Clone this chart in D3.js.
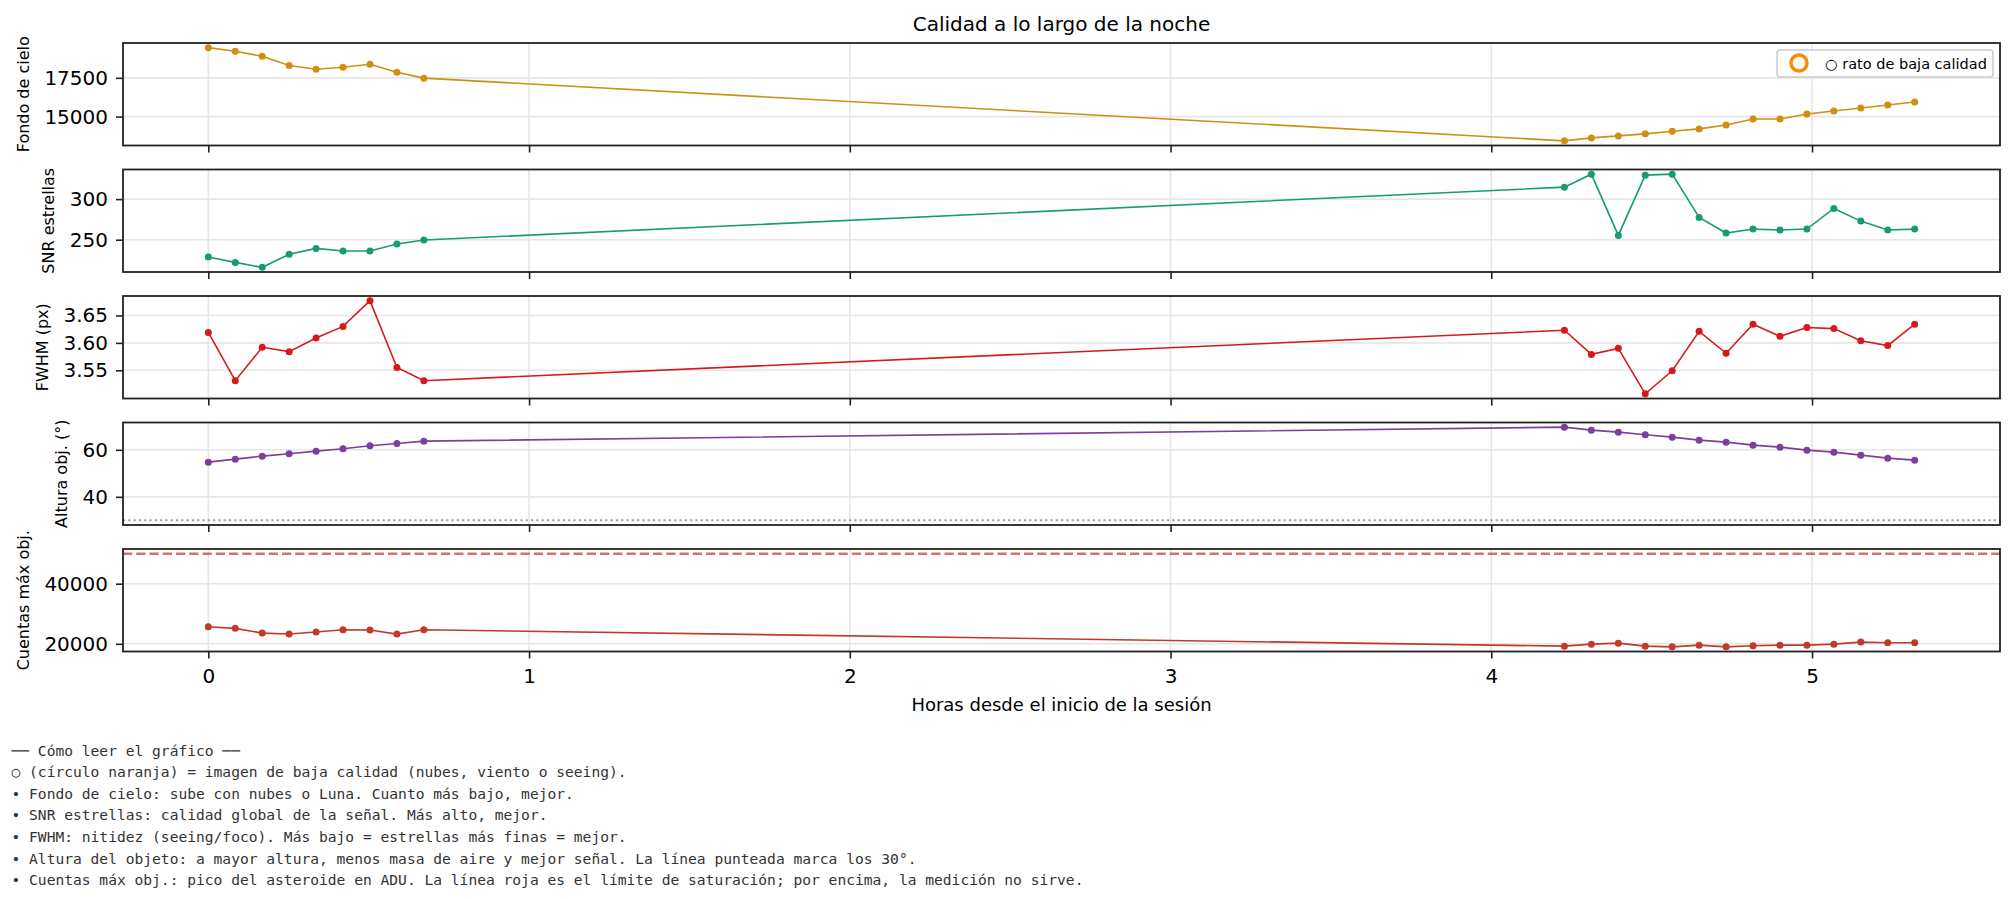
<!DOCTYPE html>
<html>
<head>
<meta charset="utf-8">
<script src="https://cdn.jsdelivr.net/npm/d3@7"></script>
<style>
  body { margin: 0; background: #fff; }
  svg { display: block; }
  text { font-family: "DejaVu Sans", sans-serif; }
  text.note { font-family: "DejaVu Sans Mono", monospace; }
</style>
</head>
<body>
<svg id="chart" width="2016" height="899"></svg>
<script>
// ---------------- DATA ----------------
const hours = [0, 0.084, 0.168, 0.252, 0.336, 0.42, 0.504, 0.588, 0.672,
  4.228, 4.312, 4.396, 4.48, 4.564, 4.648, 4.732, 4.816, 4.9, 4.984, 5.068, 5.152, 5.236, 5.32];

const skyBackground = [19445, 19210, 18890, 18290, 18055, 18185, 18375, 17865, 17480,
  13440, 13630, 13760, 13890, 14060, 14210, 14465, 14850, 14850, 15170, 15365, 15555, 15750, 15940];

const snrStars = [228.7, 222.1, 216.0, 232.0, 239.3, 236.1, 236.1, 244.7, 249.6,
  314.7, 330.7, 255.3, 329.5, 330.7, 277.5, 258.2, 263.1, 261.9, 263.1, 288.5, 272.9, 261.9, 263.1];

const fwhmPx = [3.619, 3.531, 3.592, 3.584, 3.609, 3.630, 3.677, 3.555, 3.531,
  3.623, 3.579, 3.590, 3.507, 3.549, 3.621, 3.581, 3.634, 3.612, 3.628, 3.626, 3.604, 3.595, 3.634];

const altitudeDeg = [54.75, 56.03, 57.31, 58.30, 59.43, 60.43, 61.70, 62.69, 63.69,
  69.64, 68.37, 67.52, 66.38, 65.39, 64.11, 63.26, 61.99, 61.13, 59.86, 59.01, 57.73, 56.45, 55.60];

const peakCounts = [25700, 25140, 23570, 23240, 23910, 24690, 24580, 23240, 24690,
  19220, 19890, 20220, 19220, 18990, 19550, 18990, 19330, 19550, 19550, 19890, 20560, 20340, 20340];

const altitudeLimit = 30;
const saturationLimit = 50000;

const xTickValues = [0, 1, 2, 3, 4, 5];
const skyTicks = [15000, 17500];
const snrTicks = [250, 300];
const fwhmTicks = [3.55, 3.60, 3.65];
const altitudeTicks = [40, 60];
const countsTicks = [20000, 40000];

const panelLabels = ["Fondo de cielo", "SNR estrellas", "FWHM (px)", "Altura obj. (°)", "Cuentas máx obj."];
const titleText = "Calidad a lo largo de la noche";
const xLabelText = "Horas desde el inicio de la sesión";
const legendText = "○ rato de baja calidad";
const notes = [
  "── Cómo leer el gráfico ──",
  "○ (círculo naranja) = imagen de baja calidad (nubes, viento o seeing).",
  "• Fondo de cielo: sube con nubes o Luna. Cuanto más bajo, mejor.",
  "• SNR estrellas: calidad global de la señal. Más alto, mejor.",
  "• FWHM: nitidez (seeing/foco). Más bajo = estrellas más finas = mejor.",
  "• Altura del objeto: a mayor altura, menos masa de aire y mejor señal. La línea punteada marca los 30°.",
  "• Cuentas máx obj.: pico del asteroide en ADU. La línea roja es el límite de saturación; por encima, la medición no sirve."
];

// ---------------- LAYOUT ----------------
const svg = d3.select("#chart");
const left = 123, right = 2000;
const firstTop = 43, panelH = 102.5, panelStep = 126.5;

const panels = [
  { label: panelLabels[0], values: skyBackground, color: "#d08f12", ticks: skyTicks, fmt: d3.format("d") },
  { label: panelLabels[1], values: snrStars, color: "#179c6e", ticks: snrTicks, fmt: d3.format("d") },
  { label: panelLabels[2], values: fwhmPx, color: "#d7191c", ticks: fwhmTicks, fmt: d3.format(".2f") },
  { label: panelLabels[3], values: altitudeDeg, color: "#7b3f9e", ticks: altitudeTicks, fmt: d3.format("d"), ref: altitudeLimit, refStyle: "dotted" },
  { label: panelLabels[4], values: peakCounts, color: "#c0392b", ticks: countsTicks, fmt: d3.format("d"), ref: saturationLimit, refStyle: "dashed" }
];

const xMin = d3.min(hours), xMax = d3.max(hours);
const xPad = (xMax - xMin) * 0.05;
const x = d3.scaleLinear().domain([xMin - xPad, xMax + xPad]).range([left, right]);

// Title
svg.append("text")
  .attr("x", (left + right) / 2).attr("y", 30.7)
  .attr("text-anchor", "middle").attr("font-size", 20).attr("fill", "#000")
  .text(titleText);

panels.forEach((p, i) => {
  const top = firstTop + i * panelStep, bottom = top + panelH;
  const ext = d3.extent(p.ref !== undefined ? p.values.concat([p.ref]) : p.values);
  const yPad = (ext[1] - ext[0]) * 0.05;
  const y = d3.scaleLinear().domain([ext[0] - yPad, ext[1] + yPad]).range([bottom, top]);

  const g = svg.append("g");

  // grid
  g.append("g").selectAll("line").data(xTickValues).join("line")
    .attr("x1", d => x(d)).attr("x2", d => x(d)).attr("y1", top).attr("y2", bottom)
    .attr("stroke", "#e6e6e6").attr("stroke-width", 1.6);
  g.append("g").selectAll("line").data(p.ticks).join("line")
    .attr("x1", left).attr("x2", right).attr("y1", d => y(d)).attr("y2", d => y(d))
    .attr("stroke", "#e6e6e6").attr("stroke-width", 1.6);

  // reference line
  if (p.ref !== undefined) {
    const rl = g.append("line")
      .attr("x1", left).attr("x2", right).attr("y1", y(p.ref)).attr("y2", y(p.ref));
    if (p.refStyle === "dotted") {
      rl.attr("stroke", "#999").attr("stroke-width", 2).attr("stroke-dasharray", "2,3.3");
    } else {
      rl.attr("stroke", "#c0392b").attr("stroke-opacity", 0.7).attr("stroke-width", 2.5).attr("stroke-dasharray", "9.25,4");
    }
  }

  // data line
  const line = d3.line().x((d, k) => x(hours[k])).y(d => y(d));
  g.append("path").datum(p.values)
    .attr("d", line).attr("fill", "none").attr("stroke", p.color).attr("stroke-width", 1.6);
  g.append("g").selectAll("circle").data(p.values).join("circle")
    .attr("cx", (d, k) => x(hours[k])).attr("cy", d => y(d)).attr("r", 3.5).attr("fill", p.color);

  // y axis
  const ya = g.append("g").attr("transform", `translate(${left},0)`)
    .call(d3.axisLeft(y).tickValues(p.ticks).tickFormat(p.fmt).tickSize(7).tickPadding(8));
  ya.select(".domain").remove();
  ya.selectAll(".tick line").attr("stroke", "#222").attr("stroke-width", 1.6);
  ya.selectAll(".tick text").attr("font-size", 20).attr("fill", "#000").attr("font-family", "DejaVu Sans");

  // x axis
  const xa = g.append("g").attr("transform", `translate(0,${bottom})`)
    .call(d3.axisBottom(x).tickValues(xTickValues).tickSize(7).tickPadding(10.4).tickFormat(d3.format("d")));
  xa.select(".domain").remove();
  xa.selectAll(".tick line").attr("stroke", "#222").attr("stroke-width", 1.6);
  if (i === panels.length - 1) {
    xa.selectAll(".tick text").attr("font-size", 20).attr("fill", "#000").attr("font-family", "DejaVu Sans");
  } else {
    xa.selectAll(".tick text").remove();
  }

  // spines
  g.append("rect").attr("x", left).attr("y", top).attr("width", right - left).attr("height", panelH)
    .attr("fill", "none").attr("stroke", "#222").attr("stroke-width", 1.8);

  // y label
  let maxW = 0;
  ya.selectAll(".tick text").each(function () { maxW = Math.max(maxW, this.getComputedTextLength()); });
  const lx = left - 7 - 8 - maxW - 15.6;
  svg.append("text")
    .attr("transform", `translate(${lx},${(top + bottom) / 2}) rotate(-90)`)
    .attr("text-anchor", "middle").attr("font-size", 16).attr("fill", "#000")
    .text(p.label);

  // legend in the first panel
  if (i === 0) {
    const lg = svg.append("g");
    const bw = 216, bh = 27, bx = right - 7 - bw, by = top + 7;
    lg.append("rect").attr("x", bx).attr("y", by).attr("width", bw).attr("height", bh)
      .attr("rx", 3).attr("fill", "#fff").attr("fill-opacity", 0.8)
      .attr("stroke", "#cccccc").attr("stroke-width", 1.6);
    lg.append("circle").attr("cx", bx + 22).attr("cy", by + bh / 2 - 0.5).attr("r", 8)
      .attr("fill", "none").attr("stroke", "#ff8c00").attr("stroke-width", 3.5);
    lg.append("text").attr("x", bx + 48).attr("y", by + bh / 2 + 5)
      .attr("font-size", 14.5).attr("fill", "#000").text(legendText);
  }
});

// x label
svg.append("text")
  .attr("x", (left + right) / 2).attr("y", 711)
  .attr("text-anchor", "middle").attr("font-size", 18).attr("fill", "#000")
  .text(xLabelText);

// notes
svg.append("g").selectAll("text").data(notes).join("text")
  .attr("class", "note")
  .attr("x", 11.5).attr("y", (d, k) => 755.5 + k * 21.6)
  .attr("font-size", 14.6).attr("fill", "#333")
  .style("white-space", "pre")
  .text(d => d);
</script>
</body>
</html>
